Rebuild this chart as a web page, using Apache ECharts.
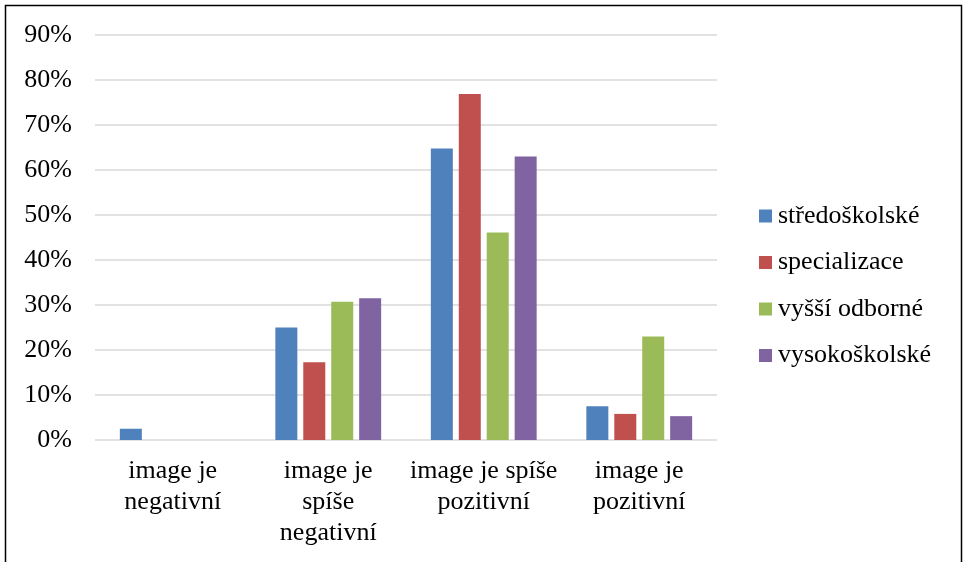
<!DOCTYPE html>
<html>
<head>
<meta charset="utf-8">
<script src="https://cdn.jsdelivr.net/npm/echarts@6/dist/echarts.min.js"></script>
<style>
  html, body { margin: 0; padding: 0; background: #fff; }
  #chart { width: 963px; height: 562px; }
</style>
</head>
<body>
<div id="chart"></div>
<script>
const categories = ['image je\nnegativní', 'image je\nspíše\nnegativní', 'image je spíše\npozitivní', 'image je\npozitivní'];
const seriesNames = ['středoškolské', 'specializace', 'vyšší odborné', 'vysokoškolské'];
const stredoskolske = [2.5, 25.0, 64.8, 7.5];
const specializace = [0, 17.3, 76.9, 5.8];
const vyssiOdborne = [0, 30.7, 46.1, 23.0];
const vysokoskolske = [0, 31.5, 63.0, 5.3];
const colors = ['#4F81BD', '#C0504D', '#9BBB59', '#8064A2'];
const yMin = 0, yMax = 90, yStep = 10;

const font = "'Liberation Serif', 'Times New Roman', serif";
const values = [stredoskolske, specializace, vyssiOdborne, vysokoskolske];

const chart = echarts.init(document.getElementById('chart'));
chart.setOption({
  animation: false,
  color: colors,
  graphic: [{
    type: 'rect',
    shape: { x: 5.5, y: 5.5, width: 956, height: 620 },
    style: { fill: 'none', stroke: '#000', lineWidth: 1.5 },
    silent: true
  }],
  grid: { left: 95, right: 246, top: 35, bottom: 122, containLabel: false },
  legend: {
    orient: 'vertical',
    left: 759,
    top: 203,
    padding: 0,
    itemWidth: 13,
    itemHeight: 13,
    itemGap: 20.5,
    icon: 'rect',
    textStyle: { fontFamily: font, fontSize: 26, color: '#000', lineHeight: 26, padding: [0, 0, 0, 1] },
    data: seriesNames
  },
  xAxis: {
    type: 'category',
    data: categories,
    axisLine: { show: false },
    axisTick: { show: false },
    axisLabel: { fontFamily: font, fontSize: 26, color: '#000', lineHeight: 31, margin: 16, interval: 0, align: 'center' }
  },
  yAxis: {
    type: 'value',
    min: yMin, max: yMax, interval: yStep,
    axisLine: { show: false },
    axisTick: { show: false },
    axisLabel: { fontFamily: font, fontSize: 26, color: '#000', margin: 23, formatter: '{value}%' },
    splitLine: { lineStyle: { color: '#d9d9d9', width: 1.5 } }
  },
  series: seriesNames.map((name, i) => ({
    name: name,
    type: 'bar',
    data: values[i],
    barWidth: 22,
    barGap: '27%',
    itemStyle: { color: colors[i] }
  }))
});
</script>
</body>
</html>
